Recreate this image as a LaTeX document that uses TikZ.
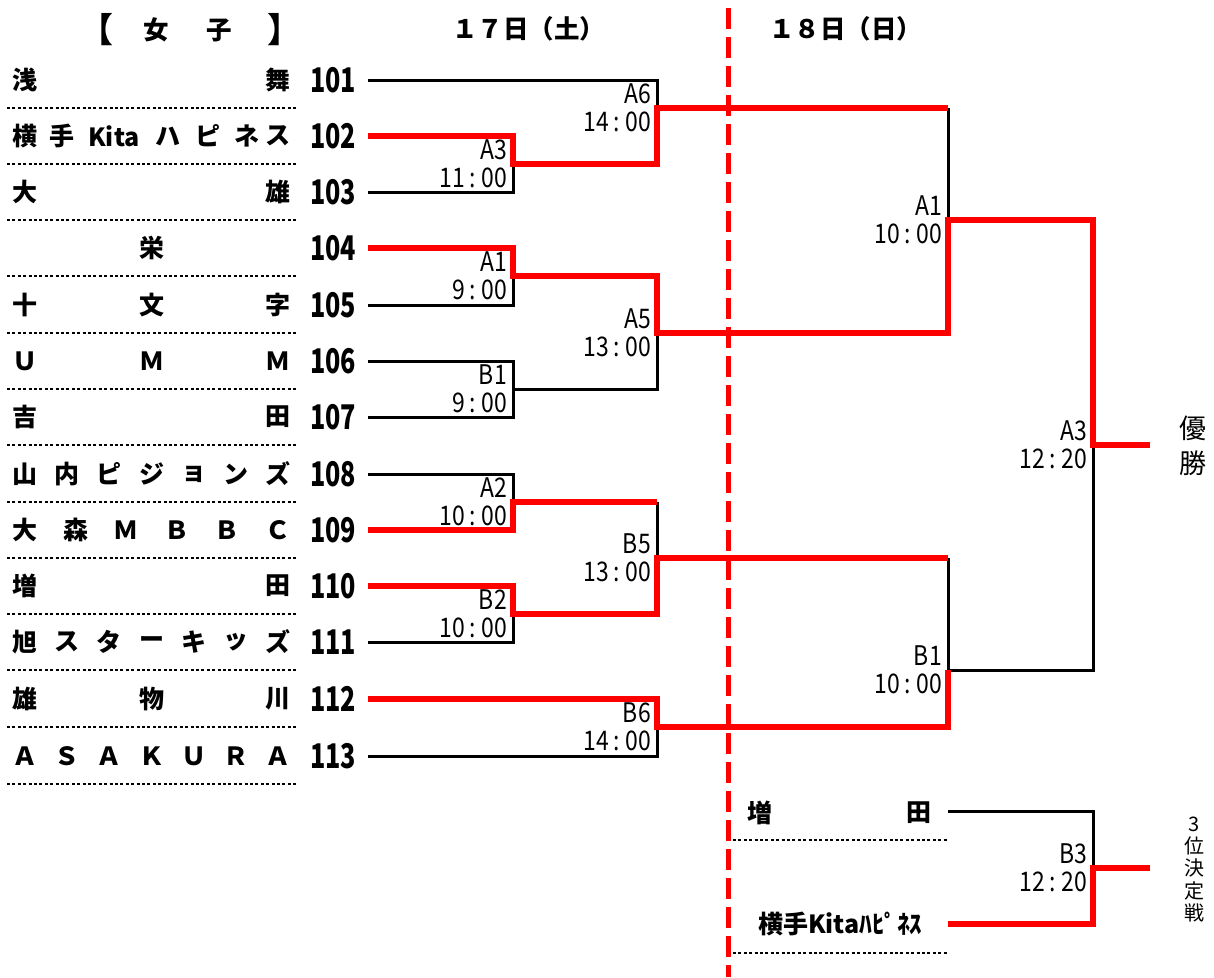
\documentclass[tikz,border=0pt]{standalone}
\usepackage{fontspec}
\setmainfont{Noto Sans CJK JP}
\newfontfamily\numf[FakeStretch=0.74]{Noto Sans CJK JP}
\newfontfamily\lblf[FakeStretch=0.85]{Noto Sans CJK JP}
\usetikzlibrary{calc}
\newcommand\tmlbl[2]{#1\kern5pt:\kern5pt#2}
\newcommand\trow[4]{\foreach \c [count=\i from 0] in {#4} {\node[tname] (#1-\i) at ({25+253*\i/#3}, #2) {\c};}}
\tikzset{
 blk/.style={line width=3pt, black, line join=miter},
 rd/.style={line width=5.5pt, red, line join=miter},
 dots/.style={line width=2.6pt, black, dash pattern=on 3pt off 2.4pt},
 tname/.style={font=\bfseries\fontsize{25}{25}\selectfont, inner sep=0},
 tnum/.style={font=\numf\bfseries\fontsize{34}{34}\selectfont, inner sep=0},
 lbl/.style={font=\lblf\fontsize{27}{28}\selectfont, align=right, anchor=east, inner sep=0, xshift=-6pt},
 hdr/.style={font=\bfseries\fontsize{25.5}{26}\selectfont, inner sep=0},
 brk/.style={font=\bfseries\fontsize{34}{34}\selectfont, inner sep=0},
 side/.style={font=\fontsize{27}{27}\selectfont, inner sep=0},
 sidesm/.style={font=\fontsize{20}{20}\selectfont, inner sep=0},
}
\begin{document}
\begin{tikzpicture}[x=1pt,y=-1pt]
\fill[white] (0,0) rectangle (1214,977);
\useasboundingbox (0,0) rectangle (1214,977);

% headers
\node[brk] (hb1) at (96.5,30) {【};
\node[hdr] (hw1) at (156,30) {女};
\node[hdr] (hw2) at (219,30) {子};
\node[brk] (hb2) at (284.5,30) {】};
\node[hdr] (d17) at (528.5,28.5) {１７日（土）};
\node[hdr] (d18) at (845.5,28.5) {１８日（日）};

% dotted separators
\foreach \yy in {108,164,220,276,333,389,445,502,558,614,670,727,784}
  \draw[dots] (7,\yy) -- (296,\yy);
\draw[dots] (733,840) -- (948,840);
\draw[dots] (733,953) -- (948,953);

% team names
\trow{r1}{80}{1}{浅,舞}
\node[tname] (r2-0) at (25,136) {横};
\node[tname] (r2-1) at (62,136) {手};
\node[tname] (r2-2) at (114,136) {Kita};
\node[tname] (r2-3) at (168,136) {ハ};
\node[tname] (r2-4) at (208,136) {ピ};
\node[tname] (r2-5) at (247,136) {ネ};
\node[tname] (r2-6) at (278,136) {ス};
\trow{r3}{192}{1}{大,雄}
\node[tname] (r4-0) at (152,248) {栄};
\trow{r5}{305}{2}{十,文,字}
\trow{r6}{361}{2}{Ｕ,Ｍ,Ｍ}
\trow{r7}{417}{1}{吉,田}
\trow{r8}{474}{6}{山,内,ピ,ジ,ョ,ン,ズ}
\trow{r9}{530}{5}{大,森,Ｍ,Ｂ,Ｂ,Ｃ}
\trow{r10}{586}{1}{増,田}
\trow{r11}{642}{6}{旭,ス,タ,ー,キ,ッ,ズ}
\trow{r12}{699}{2}{雄,物,川}
\trow{r13}{756}{6}{Ａ,Ｓ,Ａ,Ｋ,Ｕ,Ｒ,Ａ}

% numbers
\foreach \n/\yy in {101/80,102/136,103/192,104/248,105/305,106/361,107/417,108/474,109/530,110/586,111/642,112/699,113/756}
  \node[tnum] (num\n) at (333,\yy) {\n};

% coordinates
\coordinate (t1) at (368,80);
\coordinate (t2) at (368,136);
\coordinate (t3) at (368,192);
\coordinate (t4) at (368,248);
\coordinate (t5) at (368,305);
\coordinate (t6) at (368,361);
\coordinate (t7) at (368,417);
\coordinate (t8) at (368,474);
\coordinate (t9) at (368,530);
\coordinate (t10) at (368,586);
\coordinate (t11) at (368,642);
\coordinate (t12) at (368,699);
\coordinate (t13) at (368,756);
\coordinate (mA3) at (513,164);
\coordinate (mA1a) at (513,276);
\coordinate (mB1a) at (513,389);
\coordinate (mA2) at (513,502);
\coordinate (mB2) at (513,614);
\coordinate (mA6) at (657,108);
\coordinate (mA5) at (657,333);
\coordinate (mB5) at (657,558);
\coordinate (mB6) at (657,727);
\coordinate (mA1b) at (948,220);
\coordinate (mB1b) at (948,670);
\coordinate (mF) at (1093,445);
\coordinate (win) at (1150,445);
\coordinate (p1) at (948,811);
\coordinate (p2) at (948,924);
\coordinate (mB3) at (1093,868);
\coordinate (third) at (1150,868);

% day divider
\draw[red, line width=5pt, dash pattern=on 21pt off 8pt] (728,8) -- (728,977);

% black connectors
\draw[blk] (t1) -| (mA6);
\draw[blk] (t3) -| (mA3);
\draw[blk] (t5) -| (mA1a);
\draw[blk] (t6) -| (mB1a);
\draw[blk] (t7) -| (mB1a);
\draw[blk] (mB1a) -| (mA5);
\draw[blk] (t8) -| (mA2);
\draw[blk] (t11) -| (mB2);
\draw[blk] (t13) -| (mB6);
\draw[blk] (mA2 -| mB5) -- (mB5);
\draw[blk] (mA6 -| mA1b) -- (mA1b);
\draw[blk] (mB5 -| mB1b) -- (mB1b);
\draw[blk] (mB1b) -| (mF);
\draw[blk] (p1) -| (mB3);

% red connectors
\draw[rd] (t2) -| (mA3) -| (mA6) -- (mA6 -| mA1b);
\draw[rd] (t4) -| (mA1a) -| (mA5) -| (mA1b) -| (mF) -- (win);
\draw[rd] (t9) -| (mA2) -- (mA2 -| mB5);
\draw[rd] (t10) -| (mB2) -| (mB5) -- (mB5 -| mB1b);
\draw[rd] (t12) -| (mB6) -| (mB1b);
\draw[rd] (p2) -| (mB3) -- (third);

% match labels
\node[lbl] (lA3) at (mA3) {A3\\\tmlbl{11}{00}};
\node[lbl] (lA1a) at (mA1a) {A1\\\tmlbl{9}{00}};
\node[lbl] (lB1a) at (mB1a) {B1\\\tmlbl{9}{00}};
\node[lbl] (lA2) at (mA2) {A2\\\tmlbl{10}{00}};
\node[lbl] (lB2) at (mB2) {B2\\\tmlbl{10}{00}};
\node[lbl] (lA6) at (mA6) {A6\\\tmlbl{14}{00}};
\node[lbl] (lA5) at (mA5) {A5\\\tmlbl{13}{00}};
\node[lbl] (lB5) at (mB5) {B5\\\tmlbl{13}{00}};
\node[lbl] (lB6) at (mB6) {B6\\\tmlbl{14}{00}};
\node[lbl] (lA1b) at (mA1b) {A1\\\tmlbl{10}{00}};
\node[lbl] (lB1b) at (mB1b) {B1\\\tmlbl{10}{00}};
\node[lbl] (lF) at (mF) {A3\\\tmlbl{12}{20}};
\node[lbl] (lB3) at (mB3) {B3\\\tmlbl{12}{20}};

% right side texts
\node[side] (yu1) at (1193,428) {優};
\node[side] (yu2) at (1193,463) {勝};
\node[sidesm] (s1) at (1194,824) {3};
\node[sidesm] (s2) at (1194,846) {位};
\node[sidesm] (s3) at (1194,868) {決};
\node[sidesm] (s4) at (1194,891) {定};
\node[sidesm] (s5) at (1194,913) {戦};

% third place teams
\node[tname] (q1a) at (760,813) {増};
\node[tname] (q1b) at (919,813) {田};
\node[tname] (q2) at (840,924) {横手Kitaﾊﾋﾟﾈｽ};
\end{tikzpicture}
\end{document}
